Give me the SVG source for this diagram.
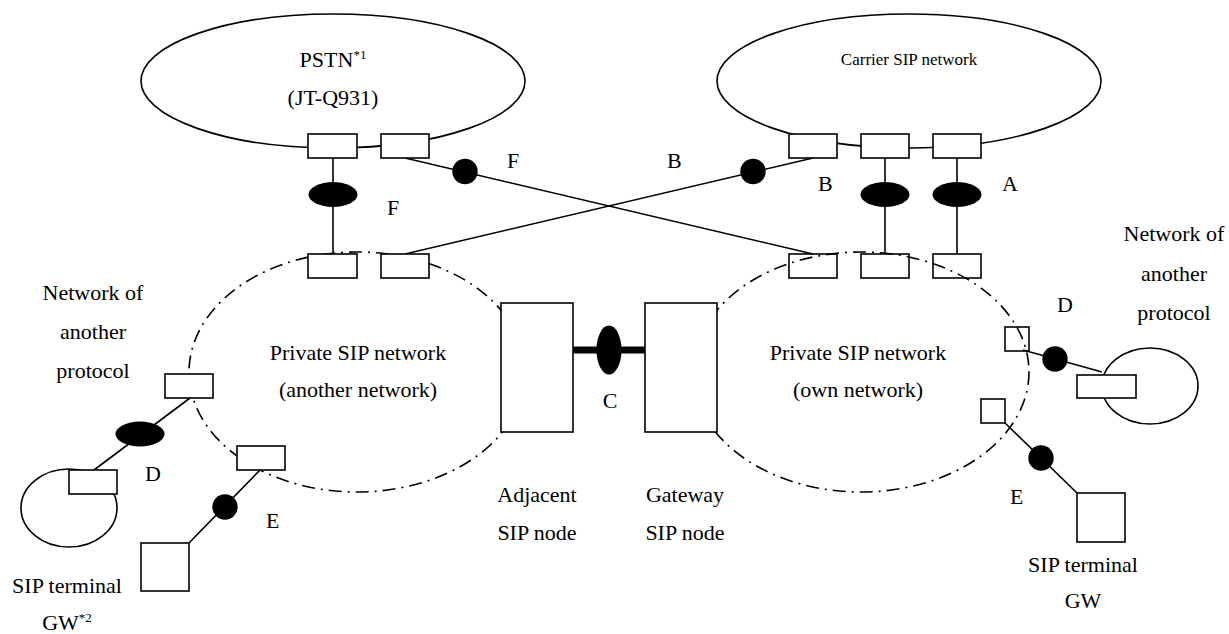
<svg xmlns="http://www.w3.org/2000/svg" width="1229" height="634" viewBox="0 0 1229 634" font-family="'Liberation Serif', 'Times New Roman', Times, serif">
<style>
.ln{stroke:#000;stroke-width:1.6;fill:none}
.bx{stroke:#000;stroke-width:1.6;fill:#fff}
.bxo{stroke:#000;stroke-width:1.6;fill:none}
.net{stroke:#000;stroke-width:1.6;fill:none}
.dd{stroke:#000;stroke-width:1.6;fill:none;stroke-dasharray:13 6 2 6}
.blk{fill:#000;stroke:none}
text{font-size:22px;fill:#000}
.mid{text-anchor:middle}
</style>
<rect width="1229" height="634" fill="#fff"/>

<!-- private networks (dash-dot) -->
<g id="another-network">
<ellipse class="dd" cx="357" cy="372" rx="168" ry="120"/>
<text class="mid" x="358" y="360">Private SIP network</text>
<text class="mid" x="358" y="397">(another network)</text>
</g>
<g id="own-network">
<ellipse class="dd" cx="861" cy="372" rx="168" ry="120"/>
<text class="mid" x="858" y="360">Private SIP network</text>
<text class="mid" x="858" y="397">(own network)</text>
</g>

<!-- top networks -->
<g id="pstn">
<ellipse class="net" cx="333" cy="81" rx="192" ry="67"/>
<text class="mid" x="333" y="67">PSTN<tspan font-size="13" dy="-8">*1</tspan></text>
<text class="mid" x="333" y="105">(JT-Q931)</text>
</g>
<g id="carrier">
<ellipse class="net" cx="909" cy="81" rx="192" ry="67"/>
<text class="mid" x="909" y="65" style="font-size:17px">Carrier SIP network</text>
</g>

<!-- connectors -->
<g id="connectors">
<line class="ln" x1="333" y1="158" x2="333" y2="254"/>
<line class="ln" x1="885" y1="158" x2="885" y2="254"/>
<line class="ln" x1="957" y1="158" x2="957" y2="254"/>
<line class="ln" x1="405" y1="158" x2="813" y2="254"/>
<line class="ln" x1="813" y1="158" x2="405" y2="254"/>
<line x1="573" y1="350" x2="645" y2="350" stroke="#000" stroke-width="7"/>
<line class="ln" x1="190" y1="398" x2="94" y2="470"/>
<line class="ln" x1="260" y1="470" x2="189" y2="543"/>
<line class="ln" x1="1023" y1="350" x2="1102" y2="372"/>
<line class="ln" x1="1005" y1="423" x2="1077" y2="493"/>
<ellipse class="blk" cx="333" cy="194.5" rx="24.5" ry="12.5"/>
<ellipse class="blk" cx="885" cy="194.5" rx="24.5" ry="12.5"/>
<ellipse class="blk" cx="957" cy="194.5" rx="24.5" ry="12.5"/>
<circle class="blk" cx="465" cy="171.5" r="12.7"/>
<circle class="blk" cx="753" cy="171.5" r="12.7"/>
<ellipse class="blk" cx="609" cy="350" rx="12.5" ry="24.5"/>
<ellipse class="blk" cx="140" cy="434" rx="24.5" ry="12.5"/>
<circle class="blk" cx="225" cy="507" r="12.7"/>
<circle class="blk" cx="1055" cy="359" r="12.7"/>
<circle class="blk" cx="1041" cy="458" r="12.7"/>
<text x="387" y="215">F</text>
<text x="507" y="168">F</text>
<text x="667" y="168">B</text>
<text x="818" y="191">B</text>
<text x="1002" y="191">A</text>
<text class="mid" x="610" y="408">C</text>
<text x="145" y="481">D</text>
<text x="266" y="528">E</text>
<text x="1057" y="312">D</text>
<text x="1010" y="504">E</text>
</g>

<!-- interface boxes -->
<g id="pstn-ports">
<rect class="bx" x="308" y="134" width="49" height="24"/>
<rect class="bx" x="381" y="134" width="48" height="24"/>
</g>
<g id="carrier-ports">
<rect class="bx" x="789" y="134" width="48" height="24"/>
<rect class="bx" x="861" y="134" width="48" height="24"/>
<rect class="bx" x="933" y="134" width="48" height="24"/>
</g>
<g id="another-ports">
<rect class="bx" x="308" y="254" width="49" height="24"/>
<rect class="bx" x="381" y="254" width="48" height="24"/>
<rect class="bx" x="165" y="374" width="48" height="24"/>
<rect class="bx" x="237" y="446" width="48" height="24"/>
</g>
<g id="own-ports">
<rect class="bxo" x="789" y="254" width="48" height="24"/>
<rect class="bxo" x="861" y="254" width="48" height="24"/>
<rect class="bxo" x="933" y="254" width="48" height="24"/>
<rect class="bxo" x="1005" y="327" width="24" height="24"/>
<rect class="bxo" x="981" y="399" width="24" height="24"/>
</g>

<g id="adjacent-node">
<rect class="bx" x="501" y="303" width="72" height="129"/>
<text class="mid" x="537" y="502">Adjacent</text>
<text class="mid" x="537" y="540">SIP node</text>
</g>
<g id="gateway-node">
<rect class="bx" x="645" y="303" width="72" height="129"/>
<text class="mid" x="685" y="502">Gateway</text>
<text class="mid" x="685" y="540">SIP node</text>
</g>

<g id="left-other-network">
<ellipse class="net" cx="69" cy="508" rx="48" ry="39"/>
<rect class="bx" x="69" y="470" width="48" height="24"/>
<text class="mid" x="93" y="300">Network of</text>
<text class="mid" x="93" y="339">another</text>
<text class="mid" x="93" y="378">protocol</text>
</g>
<g id="left-terminal">
<rect class="bx" x="141" y="543" width="48" height="48"/>
<text class="mid" x="67" y="593">SIP terminal</text>
<text class="mid" x="67" y="630">GW<tspan font-size="13" dy="-8">*2</tspan></text>
</g>
<g id="right-other-network">
<ellipse class="net" cx="1150" cy="386" rx="48" ry="38"/>
<rect class="bx" x="1077" y="375" width="59" height="23"/>
<text class="mid" x="1174" y="241">Network of</text>
<text class="mid" x="1174" y="281">another</text>
<text class="mid" x="1174" y="320">protocol</text>
</g>
<g id="right-terminal">
<rect class="bx" x="1077" y="493" width="48" height="49"/>
<text class="mid" x="1083" y="572">SIP terminal</text>
<text class="mid" x="1083" y="608">GW</text>
</g>
</svg>
